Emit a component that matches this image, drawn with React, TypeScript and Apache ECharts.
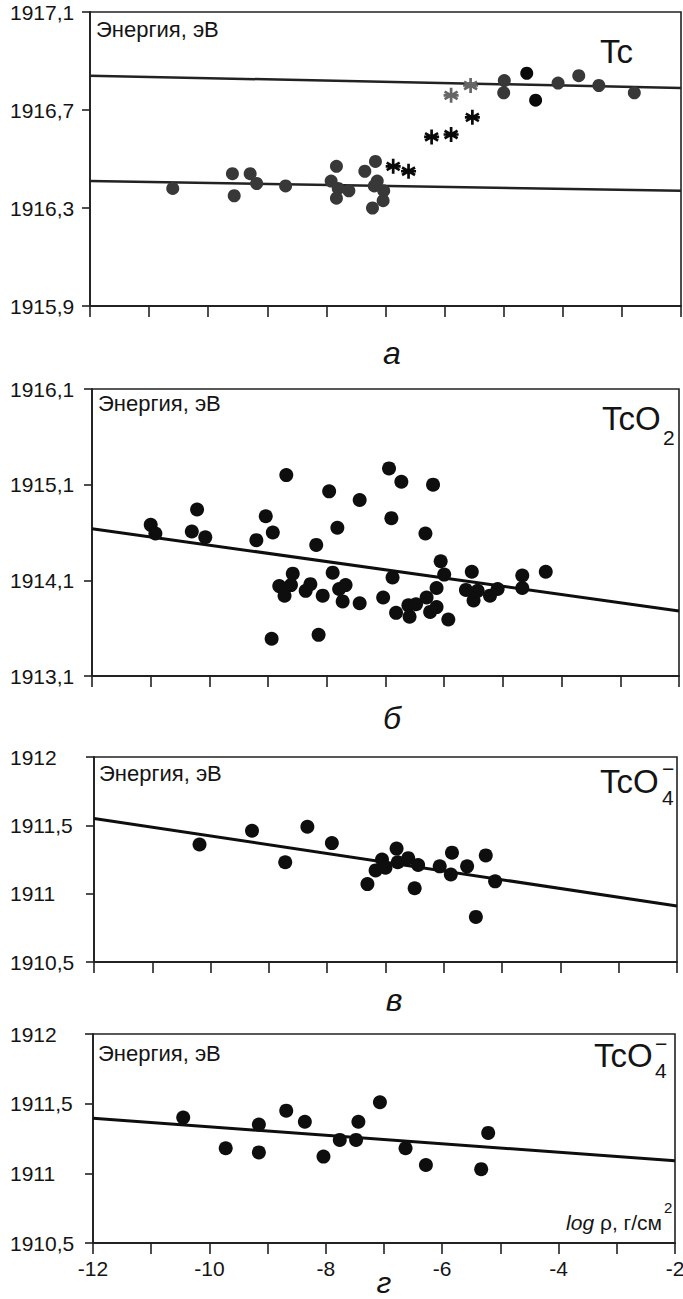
import React, { useEffect, useRef } from "react";
import * as echarts from "echarts";

const FONT = '"Liberation Sans", Arial, Helvetica, sans-serif';

// ---- shared x axis (log ρ) ----
const X_MIN = -12;
const X_MAX = -2;
const X_STEP = 1;

// ---- panel а : Tc ----
const tcYRange = [1915.9, 1917.1, 0.4];
const tcLineLower: [number, number][] = [[-12, 1916.41], [-2, 1916.37]];
const tcLineUpper: [number, number][] = [[-12, 1916.84], [-2, 1916.79]];
const tcDots: [number, number][] = [
  [-10.6, 1916.38], [-9.59, 1916.44], [-9.56, 1916.35], [-9.29, 1916.44], [-9.18, 1916.4],
  [-8.69, 1916.39], [-7.83, 1916.47], [-7.92, 1916.41], [-7.8, 1916.38], [-7.83, 1916.34],
  [-7.62, 1916.37], [-7.35, 1916.45], [-7.17, 1916.49], [-7.14, 1916.41], [-7.19, 1916.39],
  [-7.03, 1916.37], [-7.04, 1916.33], [-7.22, 1916.3],
  [-4.99, 1916.82], [-5.0, 1916.77], [-4.08, 1916.81], [-3.73, 1916.84], [-3.39, 1916.8],
  [-2.79, 1916.77],
];
const tcDarkDots: [number, number][] = [[-4.61, 1916.85], [-4.46, 1916.74]];
const tcStars: [number, number][] = [
  [-6.87, 1916.47], [-6.61, 1916.45], [-6.22, 1916.59], [-5.89, 1916.6], [-5.53, 1916.67],
];
const tcGrayStars: [number, number][] = [[-5.89, 1916.76], [-5.56, 1916.8]];

// ---- panel б : TcO2 ----
const tco2YRange = [1913.1, 1916.1, 1];
const tco2Line: [number, number][] = [[-12, 1914.64], [-2, 1913.78]];
const tco2Dots: [number, number][] = [
  [-11.0, 1914.68], [-10.92, 1914.59], [-10.21, 1914.84], [-10.3, 1914.61], [-10.07, 1914.55],
  [-9.2, 1914.52], [-9.04, 1914.77], [-8.92, 1914.6], [-8.69, 1915.2], [-8.94, 1913.49],
  [-8.81, 1914.04], [-8.72, 1913.94], [-8.61, 1914.05], [-8.58, 1914.17], [-8.36, 1913.99],
  [-8.28, 1914.06], [-8.18, 1914.47], [-8.14, 1913.53], [-8.07, 1913.94], [-7.96, 1915.03],
  [-7.82, 1914.65], [-7.9, 1914.18], [-7.79, 1914.01], [-7.73, 1913.88], [-7.68, 1914.05],
  [-7.44, 1914.94], [-7.44, 1913.86], [-7.04, 1913.92], [-6.94, 1915.27], [-6.9, 1914.75],
  [-6.88, 1914.13], [-6.82, 1913.76], [-6.73, 1915.13], [-6.61, 1913.84], [-6.59, 1913.72],
  [-6.48, 1913.85], [-6.32, 1914.59], [-6.3, 1913.92], [-6.19, 1915.1], [-6.24, 1913.77],
  [-6.13, 1913.82], [-6.13, 1914.02], [-6.06, 1914.3], [-6.0, 1914.16], [-5.93, 1913.69],
  [-5.63, 1914.0], [-5.53, 1914.19], [-5.5, 1913.89], [-5.43, 1913.99], [-5.22, 1913.94],
  [-5.09, 1914.01], [-4.67, 1914.15], [-4.67, 1914.02], [-4.27, 1914.19],
];

// ---- panel в : TcO4- ----
const tco4aYRange = [1910.5, 1912, 0.5];
const tco4aLine: [number, number][] = [[-12, 1911.55], [-2, 1910.91]];
const tco4aDots: [number, number][] = [
  [-10.19, 1911.36], [-9.29, 1911.46], [-8.72, 1911.23], [-8.34, 1911.49], [-7.92, 1911.37],
  [-7.31, 1911.07], [-7.17, 1911.17], [-7.06, 1911.25], [-7.0, 1911.19], [-6.81, 1911.33],
  [-6.79, 1911.23], [-6.61, 1911.26], [-6.5, 1911.04], [-6.44, 1911.21], [-6.07, 1911.2],
  [-5.88, 1911.14], [-5.86, 1911.3], [-5.6, 1911.2], [-5.45, 1910.83], [-5.28, 1911.28],
  [-5.12, 1911.09],
];

// ---- panel г : TcO4- ----
const tco4bYRange = [1910.5, 1912, 0.5];
const tco4bLine: [number, number][] = [[-12, 1911.395], [-2, 1911.09]];
const tco4bDots: [number, number][] = [
  [-10.45, 1911.4], [-9.72, 1911.18], [-9.15, 1911.35], [-9.15, 1911.15], [-8.68, 1911.45],
  [-8.36, 1911.37], [-8.04, 1911.12], [-7.76, 1911.24], [-7.48, 1911.24], [-7.44, 1911.37],
  [-7.07, 1911.51], [-6.63, 1911.18], [-6.28, 1911.06], [-5.33, 1911.03], [-5.21, 1911.29],
];

const STAR =
  "path://M-1,-0.18L1,-0.18L1,0.18L-1,0.18Z" +
  "M0.18,-1L0.18,1L-0.18,1L-0.18,-1Z" +
  "M-0.776,-0.656L0.956,0.344L0.776,0.656L-0.956,-0.344Z" +
  "M0.956,-0.344L-0.776,0.656L-0.956,0.344L0.776,-0.656Z";

const GRIDS = [
  { left: 90, top: 12, width: 591, height: 294 },
  { left: 92, top: 389, width: 587, height: 287 },
  { left: 94, top: 757, width: 583, height: 205 },
  { left: 93, top: 1034, width: 582, height: 209 },
];

const AXIS_COLOR = "#222";
const TEXT_COLOR = "#141414";

function yFmt(v: number): string {
  const r = Math.round(v * 10) / 10;
  return Number.isInteger(r) ? String(r) : r.toFixed(1).replace(".", ",");
}

function txt(x: number, y: number, text: string, size: number, extra: any = {}) {
  const align = extra.align || "left";
  return {
    type: "text",
    x,
    y,
    z: 100,
    style: {
      text,
      fontSize: size,
      fontFamily: FONT,
      fontStyle: extra.italic ? "italic" : "normal",
      fill: TEXT_COLOR,
      align,
      textAlign: align,
      verticalAlign: "middle",
      textVerticalAlign: "middle",
      rich: extra.rich,
    },
  };
}

export default function App() {
  const ref = useRef<HTMLDivElement>(null);

  useEffect(() => {
    if (!ref.current) return;
    const chart = echarts.init(ref.current, null, { renderer: "svg" });
    const yRanges = [tcYRange, tco2YRange, tco4aYRange, tco4bYRange];

    const grid = GRIDS.map((g) => ({
      ...g,
      show: true,
      borderColor: AXIS_COLOR,
      borderWidth: 1.6,
      backgroundColor: "transparent",
      containLabel: false,
      outerBoundsMode: "none",
    }));

    const xAxis = GRIDS.map((_, i) => ({
      gridIndex: i,
      type: "value",
      min: X_MIN,
      max: X_MAX,
      interval: X_STEP,
      axisLine: { show: true, onZero: false, lineStyle: { color: AXIS_COLOR, width: 1.8 } },
      axisTick: { show: true, inside: false, length: 11, lineStyle: { color: AXIS_COLOR, width: 1.6 } },
      axisLabel: {
        show: i === 3,
        formatter: (v: number) => (Math.round(v) % 2 === 0 ? String(Math.round(v)) : ""),
        fontSize: 21,
        fontFamily: FONT,
        color: TEXT_COLOR,
        margin: 15,
      },
      splitLine: { show: false },
    }));

    const yAxis = GRIDS.map((_, i) => ({
      gridIndex: i,
      type: "value",
      min: yRanges[i][0],
      max: yRanges[i][1],
      interval: yRanges[i][2],
      axisLine: { show: true, onZero: false, lineStyle: { color: AXIS_COLOR, width: 1.8 } },
      axisTick: { show: true, inside: false, length: 8, lineStyle: { color: AXIS_COLOR, width: 1.6 } },
      axisLabel: {
        formatter: yFmt,
        fontSize: 21,
        fontFamily: FONT,
        color: TEXT_COLOR,
        align: "left",
        margin: GRIDS[i].left - 10,
      },
      splitLine: { show: false },
    }));

    const line = (data: [number, number][], idx: number, color = "#0e0e0e", width = 3) => ({
      type: "line",
      xAxisIndex: idx,
      yAxisIndex: idx,
      data,
      symbol: "none",
      silent: true,
      z: 1,
      lineStyle: { color, width },
    });
    const scatter = (data: [number, number][], idx: number, color: string, size = 13, symbol = "circle") => ({
      type: "scatter",
      xAxisIndex: idx,
      yAxisIndex: idx,
      data,
      symbol,
      symbolSize: size,
      z: 3,
      itemStyle: { color, opacity: 1 },
    });

    const series = [
      line(tcLineLower, 0, "#222", 2.5),
      line(tcLineUpper, 0, "#222", 2.5),
      scatter(tcDots, 0, "#383838", 13),
      scatter(tcDarkDots, 0, "#0a0a0a", 13),
      scatter(tcStars, 0, "#0a0a0a", 15, STAR),
      scatter(tcGrayStars, 0, "#666", 15, STAR),
      line(tco2Line, 1),
      scatter(tco2Dots, 1, "#0e0e0e", 14),
      line(tco4aLine, 2),
      scatter(tco4aDots, 2, "#0e0e0e", 14),
      line(tco4bLine, 3),
      scatter(tco4bDots, 3, "#0e0e0e", 14),
    ];

    const graphic = [
      // panel а
      txt(96, 29, "Энергия, эВ", 22),
      txt(600, 51, "Tc", 33),
      txt(392, 353, "а", 32, { align: "center", italic: true }),
      // panel б
      txt(98, 403, "Энергия, эВ", 22),
      txt(602, 418, "TcO", 33),
      txt(663, 437, "2", 21),
      txt(392, 718, "б", 32, { align: "center", italic: true }),
      // panel в
      txt(99, 773, "Энергия, эВ", 22),
      txt(600, 781, "TcO", 33),
      txt(662, 797, "4", 21),
      txt(662, 768, "−", 21),
      txt(394, 1000, "в", 32, { align: "center", italic: true }),
      // panel г
      txt(98, 1053, "Энергия, эВ", 22),
      txt(594, 1055, "TcO", 33),
      txt(655, 1070, "4", 21),
      txt(655, 1043, "−", 21),
      txt(662, 1222, "{i|log} ρ, г/см", 21, {
        align: "right",
        rich: { i: { fontStyle: "italic", fontSize: 21, fontFamily: FONT, fill: TEXT_COLOR } },
      }),
      txt(664, 1207, "2", 15),
      txt(384, 1282, "г", 30, { align: "center", italic: true }),
    ];

    chart.setOption({
      animation: false,
      backgroundColor: "#ffffff",
      grid,
      xAxis,
      yAxis,
      series,
      graphic,
    });
    return () => chart.dispose();
  }, []);

  return (
    <div
      ref={ref}
      style={{ position: "absolute", left: 0, top: 0, width: 683, height: 1299, background: "#fff" }}
    />
  );
}
